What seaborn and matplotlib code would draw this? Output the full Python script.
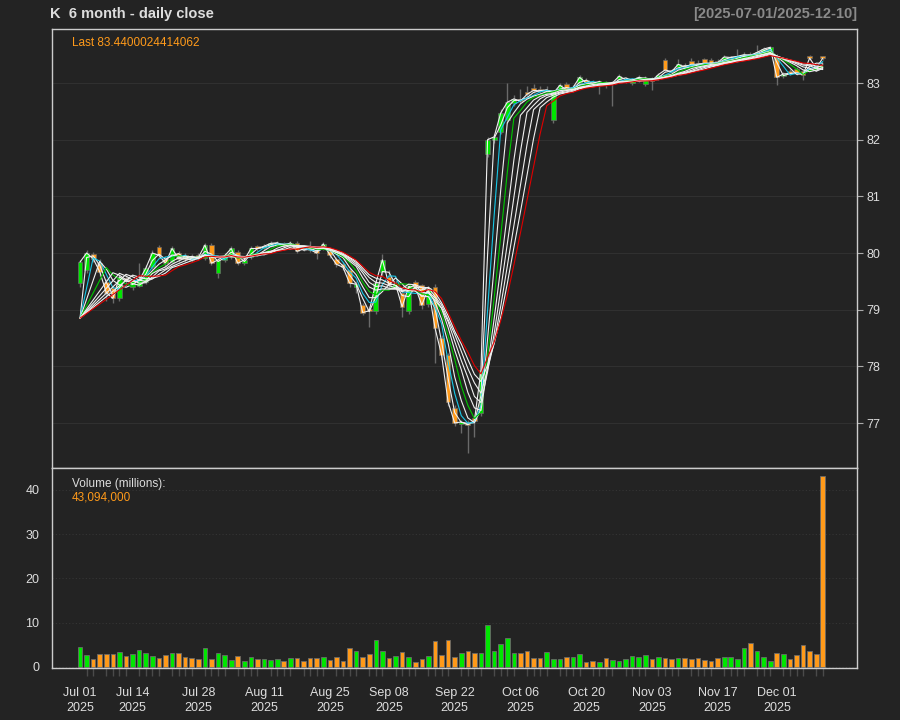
import numpy as np
import pandas as pd
import matplotlib
matplotlib.use("Agg")
import matplotlib.pyplot as plt
import matplotlib.ticker as mticker
import seaborn as sns

# trading days, Jul 01 - Dec 10 2025
holidays = ["2025-07-04", "2025-09-01", "2025-11-27"]
dates = pd.bdate_range("2025-07-01", "2025-12-10")
dates = dates[~dates.isin(pd.to_datetime(holidays))]

opens = [79.47, 79.70, 79.98, 79.83, 79.49, 79.38, 79.20, 79.56, 79.40, 79.42,
         79.49, 79.75, 80.10, 79.90, 79.85, 80.00, 79.97, 79.95, 79.96, 79.91,
         80.14, 79.64, 79.88, 79.93, 80.02, 79.82, 79.93, 80.12, 80.08, 80.12,
         80.14, 80.18, 80.12, 80.18, 80.10, 80.10, 80.05, 80.10, 80.03, 79.90,
         79.80, 79.70, 79.40, 79.08, 79.02, 78.97, 79.66, 79.58, 79.40, 79.30,
         78.97, 79.48, 79.43, 79.10, 79.40, 78.50, 78.20, 77.27, 76.98, 77.00,
         77.08, 77.18, 81.75, 82.00, 82.14, 82.35, 82.65, 82.72, 82.85, 82.92,
         82.90, 82.84, 82.35, 82.88, 82.98, 82.88, 83.00, 83.05, 83.02, 82.98,
         83.00, 82.98, 83.05, 83.03, 83.00, 83.05, 82.98, 83.08, 83.10, 83.40,
         83.22, 83.28, 83.32, 83.38, 83.36, 83.42, 83.40, 83.38, 83.40, 83.42,
         83.44, 83.45, 83.52, 83.50, 83.52, 83.55, 83.48, 83.12, 83.22, 83.25,
         83.22, 83.48, 83.30, 83.47]
closes = [79.84, 80.00, 79.90, 79.67, 79.30, 79.20, 79.58, 79.50, 79.50, 79.52,
          79.73, 80.00, 79.96, 79.82, 80.08, 79.90, 79.90, 79.88, 79.92, 80.14,
          79.82, 79.88, 79.95, 80.08, 79.82, 79.88, 80.08, 80.08, 80.12, 80.17,
          80.18, 80.12, 80.18, 80.03, 80.07, 80.06, 80.00, 80.16, 79.97, 79.80,
          79.75, 79.47, 79.45, 78.95, 78.98, 79.47, 79.88, 79.44, 79.45, 79.05,
          79.41, 79.40, 79.08, 79.38, 78.68, 78.20, 77.37, 77.00, 77.02, 76.97,
          77.04, 77.93, 82.00, 82.05, 82.47, 82.66, 82.72, 82.68, 82.80, 82.87,
          82.86, 82.88, 82.82, 82.96, 82.88, 82.92, 83.10, 83.00, 82.98, 83.02,
          82.96, 83.00, 83.12, 83.06, 83.04, 83.10, 83.08, 83.04, 83.15, 83.23,
          83.20, 83.33, 83.28, 83.33, 83.33, 83.35, 83.35, 83.36, 83.46, 83.45,
          83.47, 83.50, 83.49, 83.54, 83.60, 83.63, 83.10, 83.16, 83.17, 83.18,
          83.15, 83.44, 83.26, 83.44]
highs = [79.88, 80.05, 80.02, 79.90, 79.55, 79.42, 79.62, 79.62, 79.55, 79.82,
         79.78, 80.05, 80.14, 79.95, 80.12, 80.03, 80.00, 79.98, 80.00, 80.18,
         80.18, 79.92, 80.00, 80.12, 80.06, 79.92, 80.12, 80.15, 80.16, 80.21,
         80.22, 80.20, 80.22, 80.21, 80.14, 80.22, 80.08, 80.19, 80.06, 79.93,
         79.84, 79.74, 79.50, 79.12, 79.06, 79.52, 79.98, 79.70, 79.52, 79.35,
         79.46, 79.52, 79.46, 79.42, 79.45, 78.55, 78.24, 77.32, 77.05, 77.06,
         77.12, 77.98, 82.05, 82.10, 82.55, 83.00, 82.78, 82.90, 82.95, 82.98,
         82.95, 82.94, 82.87, 83.00, 83.02, 82.96, 83.14, 83.08, 83.06, 83.06,
         83.04, 83.04, 83.16, 83.10, 83.08, 83.14, 83.12, 83.10, 83.18, 83.44,
         83.25, 83.42, 83.35, 83.45, 83.40, 83.45, 83.44, 83.42, 83.50, 83.48,
         83.60, 83.54, 83.55, 83.67, 83.64, 83.66, 83.52, 83.20, 83.25, 83.28,
         83.25, 83.50, 83.34, 83.48]
lows = [79.40, 79.65, 79.85, 79.60, 79.15, 79.12, 79.15, 79.45, 79.35, 79.40,
        79.45, 79.72, 79.92, 79.75, 79.82, 79.85, 79.85, 79.84, 79.88, 79.88,
        79.78, 79.56, 79.85, 79.90, 79.78, 79.78, 79.90, 80.04, 80.05, 80.10,
        80.12, 80.08, 80.10, 80.00, 80.04, 80.02, 79.90, 80.06, 79.92, 79.75,
        79.70, 79.40, 79.30, 78.90, 78.70, 78.92, 79.60, 79.38, 79.35, 78.87,
        78.92, 79.35, 79.02, 79.05, 78.06, 78.12, 77.30, 76.95, 76.82, 76.47,
        76.75, 77.12, 81.70, 81.95, 82.10, 82.30, 82.60, 82.65, 82.75, 82.82,
        82.80, 82.80, 82.30, 82.85, 82.85, 82.85, 82.96, 82.95, 82.95, 82.80,
        82.92, 82.60, 83.02, 83.00, 82.96, 83.02, 82.95, 82.88, 83.06, 83.20,
        83.16, 83.25, 83.25, 83.30, 83.30, 83.32, 83.32, 83.33, 83.37, 83.40,
        83.42, 83.43, 83.46, 83.48, 83.50, 83.52, 82.97, 83.08, 83.14, 83.15,
        83.05, 83.40, 83.22, 83.40]
# volume in millions
volume = [4.6, 2.7, 1.7, 2.9, 2.9, 2.9, 3.3, 2.4, 2.9, 3.8,
          3.1, 2.4, 2.1, 2.6, 3.2, 3.2, 2.3, 2.0, 1.8, 4.3,
          1.9, 3.1, 2.6, 1.5, 2.4, 1.4, 2.2, 1.8, 1.7, 1.6,
          1.9, 1.4, 2.0, 2.1, 1.4, 2.1, 2.0, 2.2, 1.6, 2.3,
          1.4, 4.4, 3.5, 2.3, 2.9, 6.0, 3.5, 2.0, 2.4, 3.4,
          2.3, 1.2, 1.8, 2.5, 5.9, 2.8, 6.2, 2.3, 3.1, 3.7,
          3.1, 3.2, 9.5, 3.7, 5.1, 6.6, 3.2, 3.1, 3.7, 2.0,
          2.0, 3.3, 1.8, 1.9, 2.2, 2.2, 2.9, 1.1, 1.4, 1.2,
          2.0, 1.5, 1.3, 1.7, 2.4, 2.3, 2.6, 1.8, 2.3, 2.0,
          1.8, 2.1, 2.0, 1.8, 2.0, 1.5, 1.4, 2.1, 2.2, 2.3,
          1.7, 4.2, 5.5, 3.7, 2.3, 1.4, 3.2, 3.0, 1.7, 2.6,
          5.0, 3.7, 2.9, 43.094]

last_close = "83.4400024414062"
last_volume = "43,094,000"
ma_periods = [1, 2, 3, 4, 5, 6, 7, 8, 9, 10]
ma_colors = {1: "#f0f0f0", 2: "#f0f0f0", 3: "#18c8e8", 4: "#f0f0f0", 5: "#00c800",
             6: "#f0f0f0", 7: "#f0f0f0", 8: "#f0f0f0", 9: "#f0f0f0", 10: "#e00000"}
ma_start = 78.85
tick_labels = ["Jul 01", "Jul 14", "Jul 28", "Aug 11", "Aug 25", "Sep 08",
               "Sep 22", "Oct 06", "Oct 20", "Nov 03", "Nov 17", "Dec 01"]
price_ticks = [77, 78, 79, 80, 81, 82, 83]
vol_ticks = [0, 10, 20, 30, 40]

UP, DOWN = "#00e600", "#ff9a1a"
BG = "#232323"
FG = "#dddddd"

sns.set_theme(style="dark", rc={"figure.facecolor": BG, "axes.facecolor": BG,
                                "axes.edgecolor": "#cccccc", "text.color": FG,
                                "xtick.color": "#777777", "ytick.color": "#aaaaaa",
                                "xtick.labelcolor": FG, "ytick.labelcolor": FG})
plt.rcParams["font.family"] = ["Liberation Sans", "DejaVu Sans"]

idx = np.arange(len(dates))
o, c, h, l = map(np.array, (opens, closes, highs, lows))
up = c >= o
cols = np.where(up, UP, DOWN)

fig = plt.figure(figsize=(9, 7.2), dpi=100)
ax1 = fig.add_axes([0.0578, 0.35, 0.8944, 0.6097])
ax2 = fig.add_axes([0.0578, 0.0722, 0.8944, 0.2778])

# candles
ax1.vlines(idx, l, h, color="#6a6a6a", lw=1, zorder=2)
ax1.bar(idx, np.maximum(np.abs(c - o), 0.012), bottom=np.minimum(o, c), width=0.72,
        color=cols, edgecolor="#6a6a6a", linewidth=0.5, zorder=2.5)

# moving average ribbon
frames = []
for n in ma_periods:
    s = pd.Series(closes).rolling(n).mean()
    if n > 1:
        s.iloc[0] = ma_start
    frames.append(pd.DataFrame({"bar": idx, "value": s.values, "period": n}).dropna())
ma = pd.concat(frames)
sns.lineplot(data=ma, x="bar", y="value", hue="period", palette=ma_colors,
             estimator=None, legend=False, lw=0.8, ax=ax1, zorder=3)

# volume
vol_df = pd.DataFrame({"bar": idx, "vol": volume, "dir": np.where(up, "up", "down")})
sns.barplot(data=vol_df, x="bar", y="vol", hue="dir", palette={"up": UP, "down": DOWN},
            native_scale=True, dodge=False, width=0.7, saturation=1, errorbar=None,
            edgecolor="#6a6a6a", linewidth=0.6, legend=False, ax=ax2, zorder=2)

xlim = (-4.26, 118.2)
for ax in (ax1, ax2):
    ax.set_xlim(*xlim)
    ax.set_xlabel("")
    ax.set_ylabel("")
    for sp in ax.spines.values():
        sp.set_color("#cccccc")
        sp.set_linewidth(1)

ax1.set_ylim(76.206, 83.953)
ax1.yaxis.tick_right()
ax1.set_yticks(price_ticks)
ax1.set_yticklabels([str(t) for t in price_ticks], fontsize=9)
ax1.tick_params(axis="y", length=4, width=0.8, pad=3, left=False, right=True)
ax1.set_xticks([])
ax1.grid(axis="y", color="#303030", lw=0.8)
ax1.grid(axis="x", visible=False)

ax2.set_ylim(-0.23, 44.92)
ax2.set_yticks(vol_ticks)
ax2.set_yticklabels([str(t) for t in vol_ticks], fontsize=9)
ax2.tick_params(axis="y", length=5, width=0.8, pad=4)
ax2.grid(axis="y", color="#353535", lw=0.8, ls=(0, (1, 2)))
ax2.grid(axis="x", visible=False)

# week starts as major ticks, every bar a minor tick
wk = [i for i in idx if i == 0 or dates[i].weekday() < dates[i - 1].weekday()]
label_pos = {int(np.where(dates == pd.to_datetime(t + " 2025", format="%b %d %Y"))[0][0]): t
             for t in tick_labels}
ax2.set_xticks(wk)
ax2.set_xticklabels([label_pos[i] + "\n2025" if i in label_pos else "" for i in wk],
                    fontsize=9, linespacing=1.25)
ax2.xaxis.set_minor_locator(mticker.FixedLocator(idx))
ax2.tick_params(axis="x", which="major", length=6, width=1, color="#808080", pad=8)
ax2.tick_params(axis="x", which="minor", length=6, width=1, color="#4a4a4a", bottom=True)

# header and labels
fig.text(50 / 900, 1 - 14 / 720, "K  6 month - daily close", fontsize=10.5,
         fontweight="bold", color=FG, va="center", ha="left")
fig.text(857 / 900, 1 - 14 / 720, "[%s/%s]" % (dates[0].strftime("%Y-%m-%d"),
                                             dates[-1].strftime("%Y-%m-%d")),
         fontsize=10.5, fontweight="bold", color="#8a8a8a", va="center", ha="right")
fig.text(72 / 900, 1 - 43 / 720, "Last " + last_close, fontsize=8.5, color=DOWN,
         va="center", ha="left")
fig.text(72 / 900, 1 - 484 / 720, "Volume (millions):", fontsize=8.5, color=FG,
         va="center", ha="left")
fig.text(72 / 900, 1 - 497 / 720, last_volume, fontsize=8.5, color=DOWN,
         va="center", ha="left")

fig.savefig("out.png", dpi=100, facecolor=BG)
